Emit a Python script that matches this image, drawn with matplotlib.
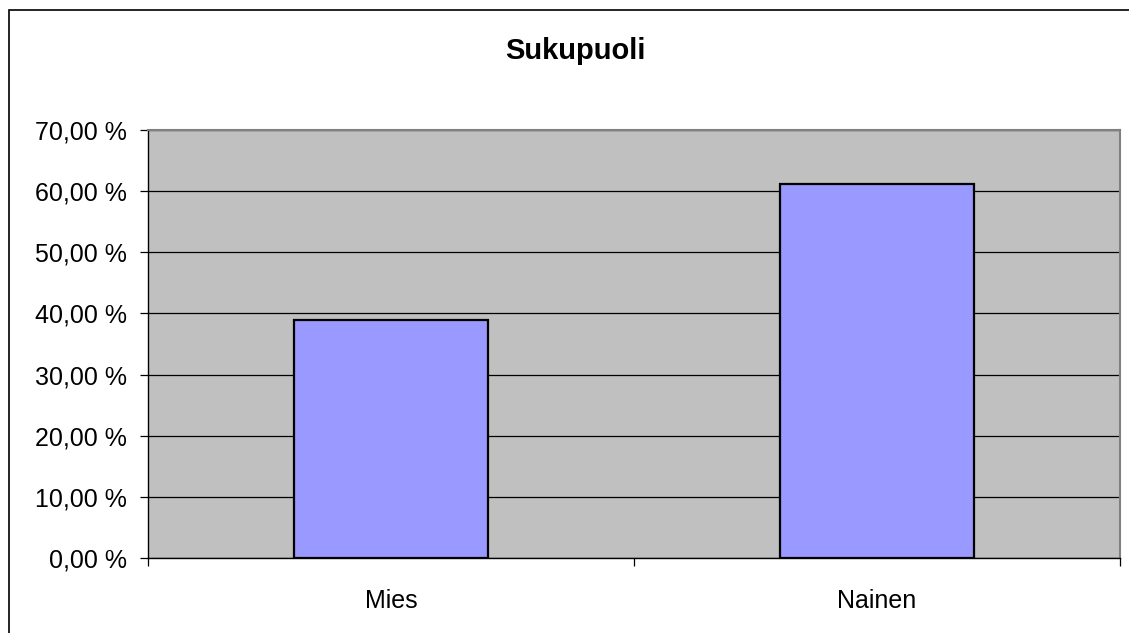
import matplotlib
matplotlib.use("Agg")
import matplotlib.pyplot as plt
from matplotlib.patches import Rectangle

categories = ["Mies", "Nainen"]
values = [38.89, 61.11]
yticks = [0, 10, 20, 30, 40, 50, 60, 70]
ytick_labels = ["0,00 %", "10,00 %", "20,00 %", "30,00 %", "40,00 %", "50,00 %", "60,00 %", "70,00 %"]
title = "Sukupuoli"

plt.rcParams['font.family'] = ['Liberation Sans', 'DejaVu Sans']

W, H = 1129, 633
fig = plt.figure(figsize=(W / 100, H / 100), dpi=100)
fig.patch.set_facecolor("white")

# outer chart frame
fig.add_artist(Rectangle((9 / W, -0.05), 1.1, 1 - 10 / H + 0.05, transform=fig.transFigure,
                         fill=False, edgecolor="#000000", linewidth=1.2))

ax = fig.add_axes([148 / W, (H - 558) / H, (1120 - 148) / W, (558 - 130) / H])
ax.set_facecolor("#C0C0C0")

x = list(range(len(categories)))
ax.bar(x, values, width=0.4, color="#9999FF", edgecolor="black", linewidth=1.6, zorder=3)

ax.set_xlim(-0.5, len(categories) - 0.5)
ax.set_ylim(0, 70)
ax.set_yticks(yticks)
ax.set_yticklabels(ytick_labels, fontsize=18)
ax.yaxis.grid(True, color="black", linewidth=0.9, zorder=1)
ax.set_axisbelow(True)

# category boundaries as ticks, labels centered
ax.set_xticks([i - 0.5 for i in range(len(categories) + 1)])
ax.set_xticklabels([])
ax.set_xticks(x, minor=True)
ax.set_xticklabels(categories, minor=True, fontsize=18)
ax.tick_params(axis="x", which="minor", length=0, pad=22)
ax.tick_params(axis="x", which="major", length=6, width=0.9, direction="out")
ax.tick_params(axis="y", length=6, width=0.9, direction="out", pad=9)

for s in ["left", "bottom"]:
    ax.spines[s].set_color("black")
    ax.spines[s].set_linewidth(1.0)
for s in ["top", "right"]:
    ax.spines[s].set_color("#808080")
    ax.spines[s].set_linewidth(1.5)

fig.text(575 / W, 1 - 51 / H, title, ha="center", va="center",
         fontsize=21, fontweight="bold")

fig.savefig("out.png", dpi=100)
